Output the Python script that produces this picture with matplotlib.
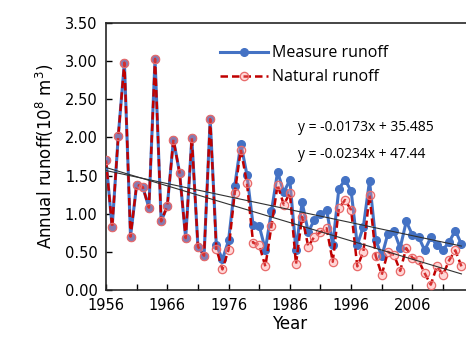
import numpy as np
import matplotlib.pyplot as plt
from matplotlib.ticker import MultipleLocator, FormatStrFormatter

# Data
years = list(range(1956, 2015))
measure = [1.70, 0.82, 2.02, 2.98, 0.70, 1.38, 1.35, 1.08, 3.03, 0.90,
           1.10, 1.97, 1.54, 0.68, 1.99, 0.57, 0.45, 2.24, 0.59, 0.40,
           0.65, 1.36, 1.92, 1.51, 0.85, 0.84, 0.53, 1.03, 1.55, 1.28,
           1.44, 0.52, 1.15, 0.76, 0.92, 1.00, 1.05, 0.59, 1.33, 1.44,
           1.30, 0.59, 0.83, 1.43, 0.66, 0.44, 0.74, 0.77, 0.55, 0.90,
           0.72, 0.70, 0.52, 0.69, 0.59, 0.53, 0.63, 0.78, 0.60]
natural = [1.70, 0.82, 2.02, 2.98, 0.70, 1.38, 1.35, 1.08, 3.03, 0.90,
           1.10, 1.97, 1.54, 0.68, 1.99, 0.57, 0.45, 2.24, 0.54, 0.27,
           0.53, 1.27, 1.84, 1.40, 0.62, 0.59, 0.31, 0.84, 1.38, 1.12,
           1.27, 0.34, 0.96, 0.57, 0.70, 0.76, 0.81, 0.37, 1.07, 1.18,
           1.05, 0.31, 0.50, 1.25, 0.45, 0.20, 0.50, 0.46, 0.25, 0.55,
           0.42, 0.39, 0.22, 0.07, 0.31, 0.20, 0.39, 0.52, 0.31]
eq_measure = "y = -0.0173x + 35.485"
eq_natural = "y = -0.0234x + 47.44"

x = np.array(years)
fig = plt.figure(figsize=(4.66, 3.45), dpi=100)
ax = fig.add_axes([0.2275, 0.1594, 0.789, 0.7739])

ax.plot(years, measure, color='#4472C4', lw=2.2, marker='o', ms=5.5,
        label='Measure runoff', zorder=3)
ax.plot(years, natural, color='#C00000', lw=1.8, ls=(0, (3, 1.6)),
        marker='o', ms=6, mfc=(1, 0.55, 0.55, 0.35), mec='#E86A6A', mew=0.9,
        label='Natural runoff', zorder=4)

# linear trend lines
for series in (measure, natural):
    k, b = np.polyfit(x, series, 1)
    ax.plot(x, k * x + b, color='#303030', lw=0.8, zorder=5)

ax.set_xlim(1956, 2016)
ax.set_ylim(0, 3.5)
ax.set_xticks(range(1956, 2016, 10))
ax.set_xticks(range(1961, 2016, 10), minor=True)
ax.yaxis.set_major_locator(MultipleLocator(0.5))
ax.yaxis.set_major_formatter(FormatStrFormatter('%.2f'))
ax.tick_params(which='both', direction='in', length=4, width=1,
               labelsize=10.5, pad=6)
for s in ax.spines.values():
    s.set_linewidth(1.2)
    s.set_color('#262626')

ax.set_xlabel('Year', fontsize=12, labelpad=1)
ax.set_ylabel('Annual runoff(10$^8$ m$^3$)', fontsize=12, labelpad=6)

ax.legend(loc='upper left', bbox_to_anchor=(0.27, 0.97), frameon=False,
          handlelength=3, labelspacing=0.5, handletextpad=0.3,
          prop={'family': 'Open Sans', 'size': 11.5})

ax.text(1987.3, 2.13, eq_measure, fontsize=10, family='Open Sans', va='center')
ax.text(1987.3, 1.77, eq_natural, fontsize=10, family='Open Sans', va='center')

fig.savefig('out.png', dpi=100)
